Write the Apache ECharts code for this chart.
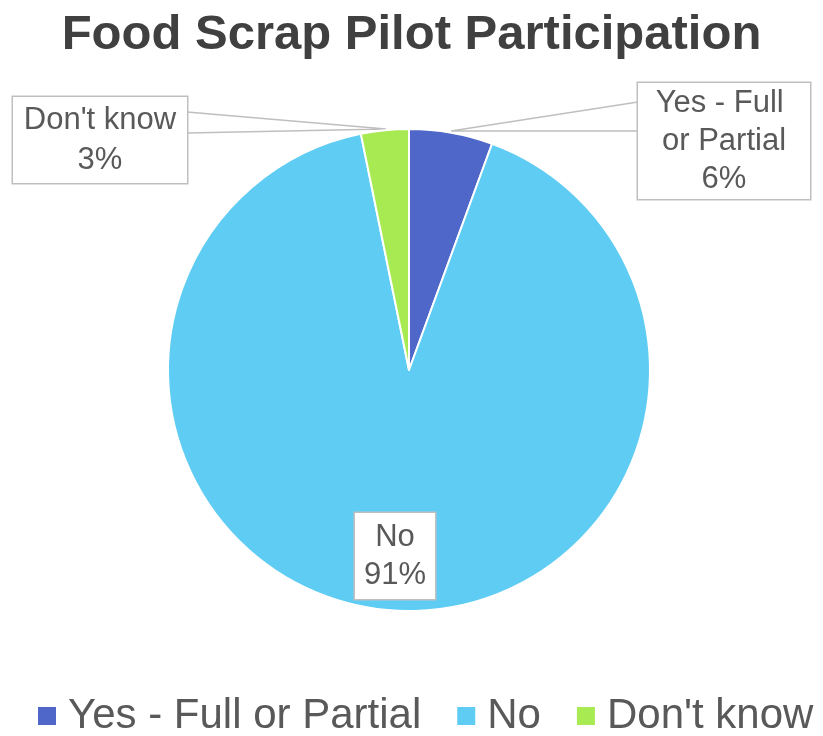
<!DOCTYPE html>
<html>
<head>
<meta charset="utf-8">
<script src="https://cdn.jsdelivr.net/npm/echarts@6/dist/echarts.min.js"></script>
<style>html,body{margin:0;padding:0;background:#fff;}#c{width:823px;height:736px;}</style>
</head>
<body>
<div id="c"></div>
<script>
const categories = ['Yes - Full or Partial', 'No', "Don't know"];
const values = [5.6, 91.2, 3.2];
const colors = ['#4E67C8', '#5ECCF3', '#A7EA52'];

const FONT = '"Liberation Sans", Arial, sans-serif';
const labelCfg = [
  {width: 152, padding: [1, 10], lineHeight: 38, cx: 724, cy: 141, line: [[638, 102], [451, 131], [638, 131]]},
  {width: 64, padding: [5, 8], lineHeight: 38, cx: 395, cy: 556, line: [[372, 598], [390, 610], [384, 598]]},
  {width: 154, padding: [3, 10], lineHeight: 40, cx: 100, cy: 140, line: [[187, 112], [386, 129], [187, 133]]}
];

const chart = echarts.init(document.getElementById('c'));
chart.setOption({
  animation: false,
  title: {
    text: 'Food Scrap Pilot Participation',
    left: 'center', top: 6,
    textStyle: {fontFamily: FONT, fontSize: 49, fontWeight: 'bold', color: '#404040'}
  },
  legend: {
    top: 695, left: 36, width: 800, padding: 0,
    itemWidth: 20, itemHeight: 20, itemGap: 34,
    icon: 'rect',
    data: categories,
    textStyle: {fontFamily: FONT, fontSize: 42, color: '#595959', padding: [0, 0, 0, 6]}
  },
  series: [{
    type: 'pie',
    center: [409, 370],
    radius: 241,
    startAngle: 90,
    clockwise: true,
    percentPrecision: 0,
    itemStyle: {borderColor: '#fff', borderWidth: 2},
    label: {
      show: true, position: 'outside',
      formatter: '{b}\n{d}%',
      fontFamily: FONT, fontSize: 31, color: '#595959',
      backgroundColor: '#fff', borderColor: '#BFBFBF', borderWidth: 1.5,
      align: 'center', overflow: 'break'
    },
    labelLine: {show: true, lineStyle: {color: '#BFBFBF', width: 1.5}},
    labelLayout: function (p) {
      const c = labelCfg[p.dataIndex];
      return {x: c.cx, y: c.cy, align: 'center', verticalAlign: 'middle', labelLinePoints: c.line};
    },
    data: categories.map((n, i) => ({
      name: n, value: values[i],
      itemStyle: {color: colors[i]},
      label: {width: labelCfg[i].width, padding: labelCfg[i].padding, lineHeight: labelCfg[i].lineHeight}
    }))
  }]
});
</script>
</body>
</html>
